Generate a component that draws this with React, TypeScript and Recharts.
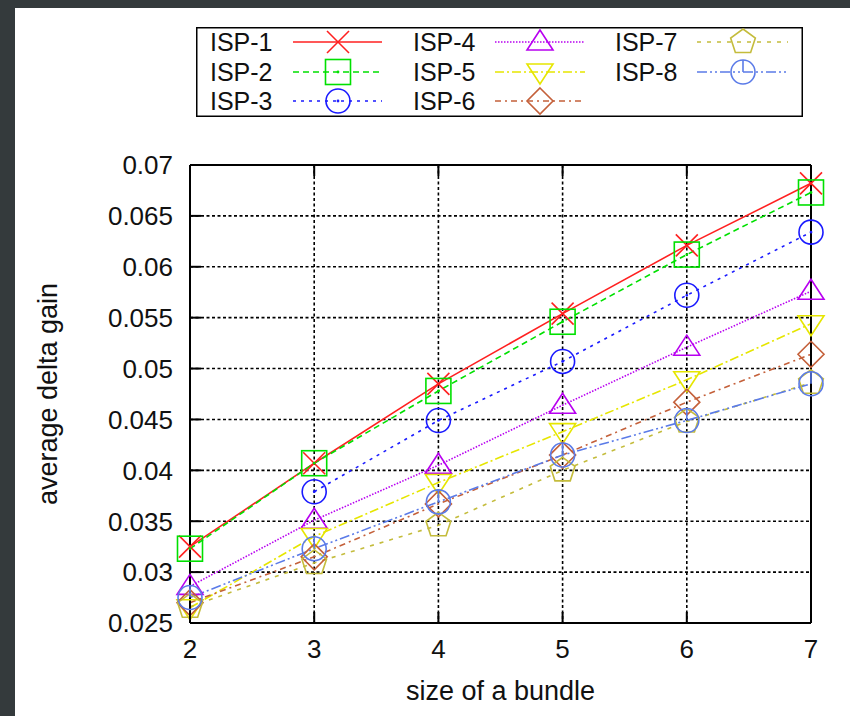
import React from "react";
import { LineChart, Line, XAxis, YAxis, CartesianGrid, Legend } from "recharts";

// x: size of a bundle
const bundleSizes = [2, 3, 4, 5, 6, 7];
const yTicks = [0.025, 0.03, 0.035, 0.04, 0.045, 0.05, 0.055, 0.06, 0.065, 0.07];

// average delta gain per ISP
const isp1 = [0.0325, 0.0407, 0.0485, 0.0554, 0.0621, 0.0682];
const isp2 = [0.0323, 0.0407, 0.0478, 0.0546, 0.0612, 0.0673];
const isp3 = [null, 0.0379, 0.0449, 0.0507, 0.0572, 0.0634];
const isp4 = [0.0286, 0.0351, 0.0405, 0.0464, 0.0521, 0.0576];
const isp5 = [0.0265, 0.0335, 0.0388, 0.0438, 0.0489, 0.0544];
const isp6 = [0.027, 0.0315, 0.0367, 0.0415, 0.0467, 0.0514];
const isp7 = [0.0266, 0.0309, 0.0346, 0.04, 0.0448, 0.0486];
const isp8 = [0.0275, 0.0323, 0.0369, 0.0415, 0.0449, 0.0485];

type Shape = "cross" | "square" | "circle" | "triangle" | "invtriangle" | "diamond" | "pentagon" | "clock";

const series: { key: string; name: string; values: (number | null)[]; color: string; dash?: string; shape: Shape }[] = [
  { key: "isp1", name: "ISP-1", values: isp1, color: "#ff2020", shape: "cross" },
  { key: "isp2", name: "ISP-2", values: isp2, color: "#00e000", dash: "6 4", shape: "square" },
  { key: "isp3", name: "ISP-3", values: isp3, color: "#1a1aff", dash: "3 5", shape: "circle" },
  { key: "isp4", name: "ISP-4", values: isp4, color: "#b800f0", dash: "1.5 1.5", shape: "triangle" },
  { key: "isp5", name: "ISP-5", values: isp5, color: "#e6e600", dash: "9 3 2 3", shape: "invtriangle" },
  { key: "isp6", name: "ISP-6", values: isp6, color: "#c4603a", dash: "6 4 2 4", shape: "diamond" },
  { key: "isp7", name: "ISP-7", values: isp7, color: "#c4bc3c", dash: "4 6", shape: "pentagon" },
  { key: "isp8", name: "ISP-8", values: isp8, color: "#5b7be8", dash: "10 3 2 3 2 3", shape: "clock" },
];

const chartData = bundleSizes.map((x, i) => {
  const row: Record<string, number | null> = { x };
  for (const s of series) row[s.key] = s.values[i];
  return row;
});

const FONT = '"Liberation Sans", Arial, Helvetica, sans-serif';
const INK = "#111";

function Marker({ shape, cx, cy, color }: { shape: Shape; cx: number; cy: number; color: string }) {
  const p = { fill: "none", stroke: color, strokeWidth: 1.6 };
  switch (shape) {
    case "cross":
      return (
        <g {...p}>
          <line x1={cx - 11} y1={cy - 11} x2={cx + 11} y2={cy + 11} />
          <line x1={cx - 11} y1={cy + 11} x2={cx + 11} y2={cy - 11} />
        </g>
      );
    case "square":
      return (
        <g {...p}>
          <rect x={cx - 12.5} y={cy - 12.5} width={25} height={25} />
          <circle cx={cx} cy={cy} r={0.6} fill={color} />
        </g>
      );
    case "circle":
      return (
        <g {...p}>
          <circle cx={cx} cy={cy} r={12} />
          <circle cx={cx} cy={cy} r={0.6} fill={color} />
        </g>
      );
    case "triangle":
      return <polygon {...p} points={`${cx},${cy - 12} ${cx - 13},${cy + 8} ${cx + 13},${cy + 8}`} />;
    case "invtriangle":
      return <polygon {...p} points={`${cx},${cy + 12} ${cx - 13},${cy - 8} ${cx + 13},${cy - 8}`} />;
    case "diamond":
      return <polygon {...p} points={`${cx},${cy - 13} ${cx + 13},${cy} ${cx},${cy + 13} ${cx - 13},${cy}`} />;
    case "pentagon": {
      const pts = [0, 1, 2, 3, 4]
        .map((k) => {
          const a = -Math.PI / 2 + (k * 2 * Math.PI) / 5;
          return `${cx + 13 * Math.cos(a)},${cy + 13 * Math.sin(a)}`;
        })
        .join(" ");
      return <polygon {...p} points={pts} />;
    }
    case "clock":
      return (
        <g {...p}>
          <circle cx={cx} cy={cy} r={12} />
          <line x1={cx} y1={cy} x2={cx} y2={cy - 12} />
        </g>
      );
  }
  return null;
}

const LeftTick = (props: any) => {
  const { x, y, payload } = props;
  return (
    <g>
      <text x={x} y={y} dy="0.36em" textAnchor="end" fontSize={26} fill={INK} fontFamily={FONT}>
        {payload.value}
      </text>
      <line x1={x + 17} x2={x + 28} y1={y} y2={y} stroke="#000" strokeWidth={2} />
    </g>
  );
};

const RightTick = (props: any) => {
  const { x, y } = props;
  return <line x1={x - 11} x2={x} y1={y} y2={y} stroke="#000" strokeWidth={2} />;
};

const BottomTick = (props: any) => {
  const { x, y, payload } = props;
  return (
    <g>
      <text x={x} y={y} dy="0.71em" textAnchor="middle" fontSize={26} fill={INK} fontFamily={FONT}>
        {payload.value}
      </text>
      <line x1={x} x2={x} y1={y - 17} y2={y - 28} stroke="#000" strokeWidth={2} />
    </g>
  );
};

const TopTick = (props: any) => {
  const { x, y } = props;
  return <line x1={x} x2={x} y1={y} y2={y + 11} stroke="#000" strokeWidth={2} />;
};

const YTitle = (props: any) => {
  const vb = props.viewBox || { x: 0, y: 165, height: 458 };
  const cx = vb.x + 57;
  const cy = vb.y + vb.height / 2;
  return (
    <text x={cx} y={cy} transform={`rotate(-90 ${cx} ${cy})`} textAnchor="middle" fontSize={27} fill={INK} fontFamily={FONT}>
      average delta gain
    </text>
  );
};

const XTitle = (props: any) => {
  const vb = props.viewBox || { x: 190, y: 623, width: 621 };
  return (
    <text x={vb.x + vb.width / 2} y={vb.y + 77} textAnchor="middle" fontSize={27} fill={INK} fontFamily={FONT}>
      size of a bundle
    </text>
  );
};

const LegendBox = () => {
  const cols = [
    { text: 14, line: [97, 186], mark: 142 },
    { text: 217, line: [299, 389], mark: 344 },
    { text: 419, line: [501, 592], mark: 547 },
  ];
  const rows = [15, 45, 74];
  return (
    <svg width={607} height={90} style={{ display: "block" }}>
      <rect x={0.75} y={0.75} width={605.5} height={88.5} fill="#fff" stroke="#000" strokeWidth={1.5} />
      {series.map((s, i) => {
        const c = cols[Math.floor(i / 3)];
        const y = rows[i % 3];
        return (
          <g key={s.key}>
            <text x={c.text} y={y} dy="0.36em" fontSize={25} fill={INK} fontFamily={FONT}>
              {s.name}
            </text>
            <line x1={c.line[0]} x2={c.line[1]} y1={y} y2={y} stroke={s.color} strokeWidth={1.6} strokeDasharray={s.dash} />
            <Marker shape={s.shape} cx={c.mark} cy={y} color={s.color} />
          </g>
        );
      })}
    </svg>
  );
};

export default function App() {
  return (
    <div style={{ position: "absolute", left: 0, top: 0, width: 850, height: 716, background: "#fff", overflow: "hidden" }}>
      <LineChart
        width={850}
        height={716}
        data={chartData}
        margin={{ top: 164, right: 38, bottom: 0, left: 0 }}
        style={{ fontFamily: FONT }}
      >
        <CartesianGrid xAxisId="b" yAxisId="l" stroke="#000" strokeWidth={1.6} strokeDasharray="3 2.5" />
        <XAxis
          xAxisId="b"
          dataKey="x"
          type="number"
          domain={[2, 7]}
          ticks={bundleSizes}
          interval={0}
          height={93}
          tickSize={0}
          tickMargin={17}
          tickLine={false}
          axisLine={{ stroke: "#000", strokeWidth: 2 }}
          tick={<BottomTick />}
          label={<XTitle />}
        />
        <XAxis
          xAxisId="t"
          orientation="top"
          dataKey="x"
          type="number"
          domain={[2, 7]}
          ticks={bundleSizes}
          interval={0}
          height={1}
          tickSize={0}
          tickMargin={0}
          tickLine={false}
          axisLine={{ stroke: "#000", strokeWidth: 2 }}
          tick={<TopTick />}
        />
        <YAxis
          yAxisId="l"
          type="number"
          domain={[0.025, 0.07]}
          ticks={yTicks}
          interval={0}
          width={190}
          tickSize={0}
          tickMargin={17}
          tickLine={false}
          axisLine={{ stroke: "#000", strokeWidth: 2 }}
          tick={<LeftTick />}
          label={<YTitle />}
        />
        <YAxis
          yAxisId="r"
          orientation="right"
          type="number"
          domain={[0.025, 0.07]}
          ticks={yTicks}
          interval={0}
          width={1}
          tickSize={0}
          tickMargin={0}
          tickLine={false}
          axisLine={{ stroke: "#000", strokeWidth: 2 }}
          tick={<RightTick />}
        />
        <Legend
          layout="vertical"
          align="center"
          verticalAlign="middle"
          wrapperStyle={{ position: "absolute", left: 196, top: 27, width: 607, height: 90 }}
          content={<LegendBox />}
        />
        {series.map((s) => (
          <Line
            key={s.key}
            xAxisId="b"
            yAxisId="l"
            type="linear"
            dataKey={s.key}
            name={s.name}
            stroke={s.color}
            strokeWidth={1.6}
            strokeDasharray={s.dash}
            isAnimationActive={false}
            activeDot={false}
            dot={(p: any) => {
              const k = `${s.key}-${p.index}`;
              if (p.cx == null || p.cy == null || p.value == null) return <g key={k} />;
              return (
                <g key={k}>
                  <Marker shape={s.shape} cx={p.cx} cy={p.cy} color={s.color} />
                </g>
              );
            }}
          />
        ))}
      </LineChart>
      <div style={{ position: "absolute", left: 0, top: 0, width: 850, height: 8, background: "#343a3c" }} />
      <div style={{ position: "absolute", left: 0, top: 0, width: 15, height: 716, background: "#343a3c" }} />
    </div>
  );
}
